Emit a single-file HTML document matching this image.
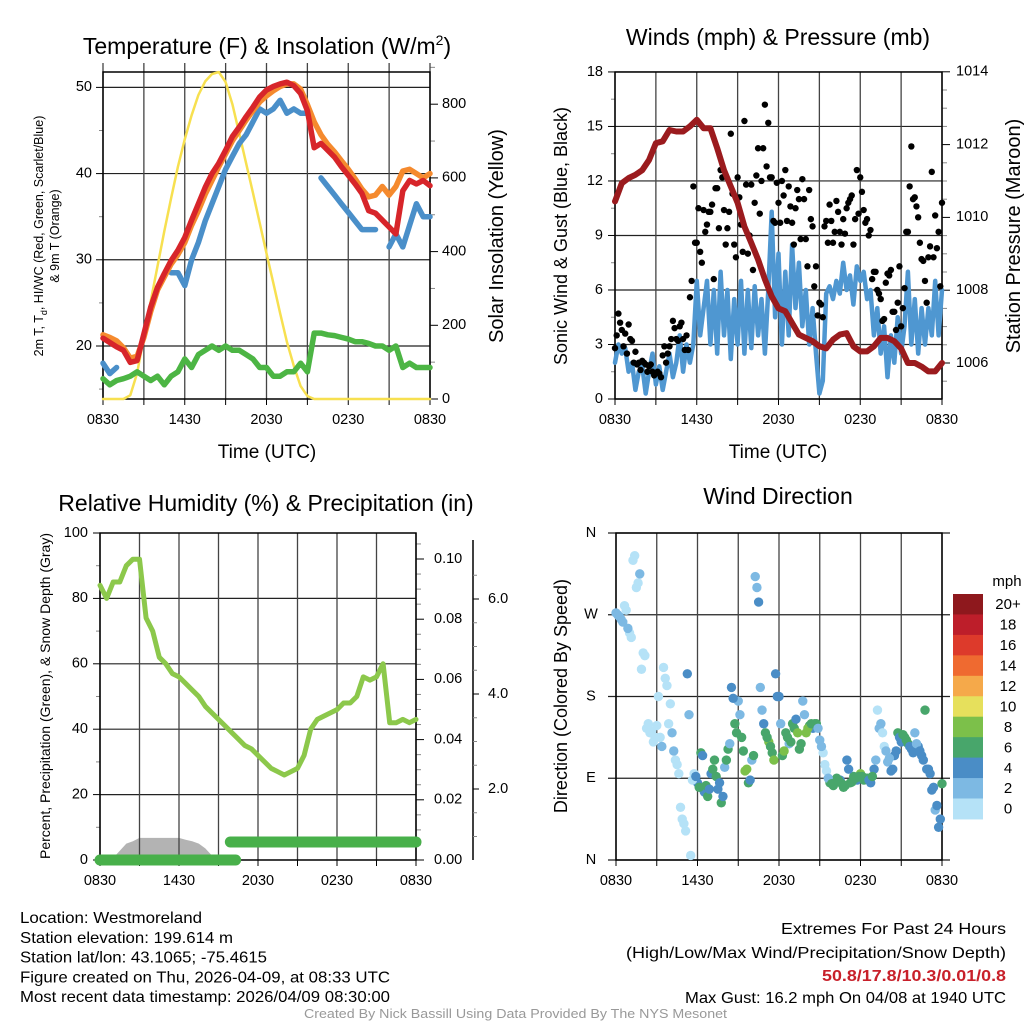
<!DOCTYPE html>
<html><head><meta charset="utf-8"><style>
html,body{margin:0;padding:0;background:#fff;}
svg{display:block;font-family:"Liberation Sans",sans-serif;}
</style></head><body>
<svg id="fig" width="1024" height="1024" viewBox="0 0 1024 1024" xmlns="http://www.w3.org/2000/svg"></svg>
<script>
// ---------- DATA (half-hourly unless noted; hours 0..24 from 0830 UTC) ----------
const timeLabels = ["0830","1430","2030","0230","0830"];
const tempRed = [20.9,20.4,19.9,19.5,18.1,18.3,21.4,24.5,26.8,28.4,29.9,31.1,32.6,34.6,36.5,38.4,40,41.2,42.7,44.3,45.4,46.6,47.7,48.9,49.7,50.1,50.4,50.6,50.2,49.3,47.3,43.0,43.5,42.7,41.9,40.8,39.8,38.8,37.7,35.7,35.4,34.6,33.8,33.0,38,39.2,38.8,39.2,38.6];
const tempOrange = [21.3,21.0,20.6,19.8,18.6,18.8,21,24,26.5,28,29.5,30.6,32,34,35.7,37.6,39.2,40.8,42.3,43.8,45,46.2,47.3,48.3,49,49.6,50.1,50.4,50.4,49.8,48,46,44.5,43.4,42.5,41.5,40.5,39.4,38.2,37.3,37.5,38.5,37.5,38.5,40.3,40.5,40,39.5,40];
const tempBlue = [18,16.8,17.5,null,null,null,null,null,null,null,28.5,28.5,27,30,32,34.5,36.5,38.5,40.5,42,43.5,44.5,46,47.5,47,47.5,48.5,47,47.5,47,47,null,39.5,38.5,37.5,36.5,35.5,34.5,33.5,33.5,33.5,null,31.5,33,31.5,34,36.5,35,35];
const dewGreen = [16.2,15.5,16,16.2,16.5,17,16.5,16,16.5,15.5,16.5,17,18.5,17.5,19,19.5,20,19.5,20,19.5,19.5,19,18.5,17.5,17.5,16.5,16.5,17,17,18,17,21.5,21.5,21.3,21.2,21,20.8,20.5,20.5,20.3,20,20,19.5,20,17.5,18,17.5,17.5,17.5];
const solar = [0,0,0,0,10,70,168,265,360,455,545,630,705,770,825,862,882,887,860,800,720,640,560,478,395,315,233,155,90,35,8,0,0,0,0,0,0,0,0,0,0,0,0,0,0,0,0,0,0];
const tempTicks = [20,30,40,50];
const solarTicks = [0,200,400,600,800];

// sustained wind every 0.25 h
const windSpeed = [2.0,3.0,2.5,2.8,1.5,2.0,0.5,1.5, 1.8,0.3,1.5,2.5,0.8,1.8,0.5,1.5, 2.5,1.2,2.0,3.5,1.5,3.0,2.0,3.0, 6.5,3.5,5.0,6.5,3.0,6.0,2.5,7.0, 3.5,6.0,2.2,5.5,3.0,6.5,2.5,6.0, 2.8,6.2,3.5,5.5,2.5,6.0,10.3,4.5, 8.0,3.0,7.0,3.5,8.5,5.0,7.5,4.0, 6.0,3.0,5.0,2.5,0.3,1.0,5.8,6.2, 5.5,6.5,5.8,7.5,6.0,6.8,5.2,7.3, 6.5,7.0,5.5,6.0,3.5,5.0,2.5,4.0, 1.2,3.5,2.0,4.5,2.5,4.0,7.0,3.0, 5.5,2.5,5.0,3.0,5.0,3.5,6.5,3.5,6.0];
// gusts every 0.25 h, two interleaved sets
const gustA = [2.8,4.7,3.8,3.6,4.1,3.2,2.6,2.0, 2.1,1.9,1.8,1.5,1.4,1.4,2.4,2.0, 2.9,4.3,3.3,4.0,3.3,3.5,5.6,11.7, 8.6,8.1,10.4,9.6,10.3,6.6,11.6,12.6, 10.4,9.4,14.6,8.5,12.2,9.6,15.3,8.0, 11.8,10.8,13.8,12.0,16.2,15.2,12.2,9.7, 10.8,12.0,12.6,11.7,9.7,10.5,11.0,12.1, 8.8,11.5,9.5,7.3,5.3,4.5,9.8,10.7, 8.6,10.9,9.2,9.9,10.5,11.0,8.5,12.6, 12.2,10.4,9.9,9.3,7.0,6.0,5.5,4.4, 6.9,7.1,4.8,5.3,4.0,6.1,9.2,13.9, 11.1,10.0,7.7,6.5,7.8,12.5,10.1,9.2,10.8];
const gustB = [3.5,4.2,2.9,2.5,3.3,2.0,1.9,1.6, 2.0,1.5,1.9,1.3,1.5,1.2,2.9,2.5, 3.3,3.9,3.2,4.2,2.7,2.7,6.5,8.6, 10.5,7.5,9.2,10.3,10.7,11.6,9.4,12.2, 8.5,10.3,11.3,7.8,11.1,8.1,11.8,9.0, 7.1,12.3,10.2,13.8,12.8,12.2,9.8,11.9, 9.7,11.2,9.8,10.6,8.5,11.5,8.8,11.0, 7.3,9.9,6.2,4.6,5.2,9.5,8.6,9.8, 9.2,10.3,8.5,9.1,10.8,11.2,9.9,10.2, 11.4,9.7,9.0,6.6,7.0,5.8,4.3,6.4, 6.8,4.8,3.8,7.3,5.0,9.2,11.7,11.0, 10.6,8.6,7.6,5.3,8.4,7.8,8.3,6.2];
const pressure = [1010.44,1010.94,1011.08,1011.17,1011.3,1011.58,1012.04,1012.09,1012.4,1012.36,1012.36,1012.5,1012.68,1012.45,1012.45,1011.9,1011.3,1010.85,1010.4,1009.75,1009.3,1008.84,1008.3,1007.83,1007.5,1007.42,1007.1,1006.78,1006.69,1006.6,1006.46,1006.4,1006.64,1006.78,1006.82,1006.46,1006.32,1006.32,1006.46,1006.69,1006.69,1006.6,1006.4,1006.0,1006.0,1005.9,1005.77,1005.77,1006.0];
const windTicks = [0,3,6,9,12,15,18];
const presTicks = [1006,1008,1010,1012,1014];

const rh = [84,80,85,85,90,92,92,74,70,62,60,57,56,54,52,50,47,45,43,41,39,37,35,34,32,30,28,27,26,27,28,32,40,43,44,45,46,48,48,50,56,55,56,60,42,42,43,42,43];
const precip = [0,0,0,0,0,0,0,0,0,0,0,0,0,0,0,0,0,0,0,0,0,0.006,0.006,0.006,0.006,0.006,0.006,0.006,0.006,0.006,0.006,0.006,0.006,0.006,0.006,0.006,0.006,0.006,0.006,0.006,0.006,0.006,0.006,0.006,0.006,0.006,0.006,0.006,0.006];
const snow = [0.5,0.5,0.55,0.7,0.85,0.9,0.97,0.97,0.97,0.97,0.97,0.97,0.97,0.93,0.9,0.85,0.75,0.6,0.5,0.5,0.5,0.5,0.5,0.5,0.5,0.5,0.5,0.5,0.5,0.5,0.5,0.5,0.5,0.5,0.5,0.5,0.5,0.5,0.5,0.5,0.5,0.5,0.5,0.5,0.5,0.5,0.5,0.5,0.5];
const rhTicks = [0,20,40,60,80,100];
const precipTicks = ["0.00","0.02","0.04","0.06","0.08","0.10"];
const snowTicks = ["2.0","4.0","6.0"];

// wind direction every 0.25 h (set A) and offset 0.125 h (set B)
const windDir = [272,268,262,275, 250,330,300,315, 228,145,140,130, 148,135,212,192, 172,120,105,58, 40,205,5,95, 85,118,75,70, 95,110,78,63, 102,122,190,150, 175,135,98,85, 110,312,284,165, 140,130,118,205, 180,115,140,128, 150,155,122,175, 140,148,145,150, 132,118,98,85, 82,90,88,80, 110,85,92,88, 95,88,90,85, 100,165,150,125, 108,98,115,140, 130,135,128,122, 140,125,115,165, 100,77,55,36, 84];
const dirSpeed = [3,2,3,1, 1,1,1,2, 0.5,1,1,1, 1,1,1,1, 1,3,1,1, 1,4,1,1, 5,7,4,6, 5,7,4,6, 3,7,5,7, 3,7,8,6, 3,3,5,3, 7,9,7,5, 5,7,6,3, 7,5,7,3, 8,6,5,7, 3,1,1,6, 6,7,5,6, 5,7,7,5, 8,6,7,5, 4,1,3,1, 3,5,4,6, 5,6,7,4, 3,5,4,7, 5,5,3,5, 6];
const windDirB = [270,265,280,255, 245,335,305,210, 225,150,142,135, 180,125,200,150, 140,110,95,45, 32,160,88,92, 80,115,82,78, 100,92,85,70, 110,128,178,140, 160,120,100,88, 115,300,190,150, 135,125,110,180, 150,120,135,130, 145,140,128,160, 145,150,150,145, 125,105,90,84, 85,88,84,82, 100,86,90,92, 92,90,88,92, 110,145,140,120, 112,100,120,135, 138,132,125,118, 128,120,110,100, 95,80,60,45];
const dirSpeedB = [2,3,1,2, 1,0.5,1,1, 1,0.5,1,1, 1,3,1,1, 3,1,1,1, 1,3,1,5, 7,5,6,4, 6,7,5,5, 7,3,5,6, 3,7,8,5, 7,3,3,5, 7,7,9,5, 3,8,7,6, 7,8,7,3, 8,7,6,3, 3,1,3,6, 6,7,6,7, 5,6,7,6, 6,7,5,6, 3,3,1,3, 3,4,5,4, 6,7,4,5, 3,4,5,5, 4,5,4,5];
const dirTicks = ["N","E","S","W","N"];
const speedBins = ["0","2","4","6","8","10","12","14","16","18","20+"];
const binColors = ["#b5e2f7","#7db9e3","#4a8dc6","#48a66b","#7cc04a","#e6e05c","#f5a94a","#ef6a30","#dd3a2b","#bd1e2a","#8e181d"];

// ---------- DRAWING ----------
const NS="http://www.w3.org/2000/svg";
const svg=document.getElementById('fig');
function mk(tag,attrs,parent){const e=document.createElementNS(NS,tag);for(const k in attrs)e.setAttribute(k,attrs[k]);(parent||svg).appendChild(e);return e;}
function txt(s,attrs,parent){const e=mk('text',attrs,parent);e.textContent=s;return e;}
function hx(x0,x1){return h=>x0+(x1-x0)*h/24;}
function pathFrom(arr,xs,ys,step){let d="",pen=false;arr.forEach((v,i)=>{if(v===null){pen=false;return;}const h=i*step;d+=(pen?"L":"M")+xs(h).toFixed(1)+" "+ys(v).toFixed(1);pen=true;});return d;}

function frameAndGrid(x0,x1,yT,yB,xs,name,gridTop){
  const g=mk('g',{});
  
  
  for(let k=0;k<=8;k++){const x=xs(k*3);
    const l=mk('line',{x1:x,x2:x,y1:gridTop,y2:yB,stroke:'#444','stroke-width':1.3},g);
    
    
    const t=mk('line',{x1:x,x2:x,y1:yB,y2:yB+6,stroke:'#000','stroke-width':1},g);
    
    
  }
  timeLabels.forEach((s,i)=>{const t=txt(s,{x:xs(i*6),y:yB+25,'font-size':14.5,'text-anchor':'middle'},g);
    
    });
  const f=mk('rect',{x:x0,y:yT,width:x1-x0,height:yB-yT,fill:'none',stroke:'#000','stroke-width':1.5},g);
  
  
}
function hGrid(y,x0,x1,ext){const l=mk('line',{x1:x0-(ext||0),x2:x1+(ext||0),y1:y,y2:y,stroke:'#222','stroke-width':1.2});
  
  }
function tick(x,y,len,major){const l=mk('line',{x1:x,x2:x+len,y1:y,y2:y,stroke:major?'#000':'#888','stroke-width':1});
  
  }
function label(s,x,y,anchor,size,name){const t=txt(s,{x:x,y:y,'font-size':size||14.5,'text-anchor':anchor,'dominant-baseline':'middle'});
  
  return t;}
function title(s,x,y,size,name,rot){const a={x:x,y:y,'font-size':size,'text-anchor':'middle'};if(rot)a.transform='rotate(-90 '+x+' '+y+')';const t=txt(s,a);
  
  return t;}
function series(d,color,w,name){const p=mk('path',{d:d,fill:'none',stroke:color,'stroke-width':w,'stroke-linejoin':'round','stroke-linecap':'round'});
  
  return p;}

// ===== Panel 1: Temperature =====
(function(){
  const x0=103,x1=430,yT=72,yB=399;
  const xs=hx(x0,x1), yL=v=>yB-(v-13.85)*8.62, yR=v=>yB-v*0.3685;
  tempTicks.forEach(v=>{hGrid(yL(v),x0,x1);tick(x0-7,yL(v),7,true);label(String(v),x0-11,yL(v),'end',14.5,'temp-tick-label');});
  [15,25,35,45].forEach(v=>tick(x0-4,yL(v),4,false));
  solarTicks.forEach(v=>{tick(x1,yR(v),8,true);label(String(v),x1+12,yR(v),'start',14.5,'solar-tick-label');});
  for(let v=100;v<=900;v+=200)tick(x1,yR(v),5,false);
  frameAndGrid(x0,x1,yT,yB,xs,'temperature-panel',63);
  const step=0.5;
  series(pathFrom(solar,xs,yR,step),'#f7e050',2.5,'solar-insolation-line');
  series(pathFrom(dewGreen,xs,yL,step),'#4cb544',5.5,'dewpoint-line');
  series(pathFrom(tempBlue,xs,yL,step),'#4a8fc9',5.5,'windchill-line');
  series(pathFrom(tempOrange,xs,yL,step),'#f58a2e',5.5,'temp-9m-line');
  series(pathFrom(tempRed,xs,yL,step),'#d7252a',5.5,'temp-2m-line');
  const t=txt('Temperature (F) & Insolation (W/m',{x:267,y:54,'font-size':23,'text-anchor':'middle'});
  const sup=mk('tspan',{dy:-9,'font-size':14},t);sup.textContent='2';
  const cl=mk('tspan',{dy:9},t);cl.textContent=')';
  
  
  title('Time (UTC)',267,458,19,'x-axis-title');
  const yl=txt('',{x:0,y:0,'font-size':12.5,'text-anchor':'middle',transform:'translate(43 236) rotate(-90)'});
  
  
  const a=mk('tspan',{x:0,y:0},yl);a.textContent='2m T, T';
  const sb=mk('tspan',{dy:4,'font-size':9},yl);sb.textContent='d';
  const b=mk('tspan',{dy:-4},yl);b.textContent=', HI/WC (Red, Green, Scarlet/Blue)';
  const c=mk('tspan',{x:0,y:16},yl);c.textContent='& 9m T (Orange)';
  title('Solar Insolation (Yellow)',503,236,20,'solar-y-axis-title',true);
})();

// ===== Panel 2: Winds & Pressure =====
(function(){
  const x0=615,x1=942,yT=72,yB=399;
  const xs=hx(x0,x1), yL=v=>yB-v*18.17, yR=p=>363-(p-1006)*36.4;
  windTicks.forEach(v=>{hGrid(yL(v),x0,x1);tick(x0-7,yL(v),7,true);label(String(v),x0-12,yL(v),'end',14.5,'wind-tick-label');});
  for(let v=1.5;v<18;v+=3)tick(x0-4,yL(v),4,false);
  presTicks.forEach(v=>{tick(x1,yR(v),8,true);label(String(v),x1+14,yR(v),'start',14.5,'pressure-tick-label');});
  for(let v=1005.5;v<1014;v+=0.5){if(v%2!==0)tick(x1,yR(v),5,false);}
  frameAndGrid(x0,x1,yT,yB,xs,'wind-panel',72);
  series(pathFrom(windSpeed,xs,yL,0.25),'#4f97d1',4.5,'sonic-wind-line');
  [gustA,gustB].forEach((arr,j)=>arr.forEach((v,i)=>{const h=i*0.25+j*0.125;if(h>24)return;
    const c=mk('circle',{cx:xs(h),cy:yL(v),r:3.2,fill:'#000'});
    
    }));
  series(pathFrom(pressure,xs,yR,0.5),'#9b1b1e',6,'pressure-line');
  title('Winds (mph) & Pressure (mb)',778,45,23,'winds-title');
  title('Time (UTC)',778,458,19,'x-axis-title');
  title('Sonic Wind & Gust (Blue, Black)',567,236,18,'wind-y-axis-title',true);
  title('Station Pressure (Maroon)',1020,236,20,'pressure-y-axis-title',true);
})();

// ===== Panel 3: RH & Precip =====
(function(){
  const x0=100,x1=416,yT=533,yB=860;
  const xs=hx(x0,x1), yL=v=>yB-v*3.27, yP=v=>yB-v*3010, yS=v=>884-v*47.5;
  rhTicks.forEach(v=>{if(v>0&&v<100)hGrid(yL(v),x0,x1);tick(x0-7,yL(v),7,true);label(String(v),x0-12,yL(v),'end',14.5,'rh-tick-label');});
  for(let v=10;v<100;v+=20)tick(x0-4,yL(v),4,false);
  precipTicks.forEach(s=>{const v=parseFloat(s);tick(x1,yP(v),8,true);label(s,x1+18,yP(v),'start',14.5,'precip-tick-label');});
  for(let v=0.005;v<0.108;v+=0.005){if(Math.round(v*1000)%20!==0)tick(x1,yP(v),5,false);}
  const sa=mk('line',{x1:473,x2:473,y1:540,y2:860,stroke:'#000','stroke-width':1.5});
  
  
  snowTicks.forEach(s=>{const v=parseFloat(s);tick(473,yS(v),6,true);label(s,488,yS(v),'start',14.5,'snow-tick-label');});
  for(let v=0.5;v<7;v+=0.5){if(v%2!==0&&yS(v)<860&&yS(v)>540)tick(473,yS(v),4,false);}
  let d='M'+xs(0)+' '+yB;snow.forEach((v,i)=>{d+='L'+xs(i*0.5).toFixed(1)+' '+Math.min(yB,yS(v)).toFixed(1);});d+='L'+xs(24)+' '+yB+'Z';
  const sp=mk('path',{d:d,fill:'#b3b3b3',stroke:'none'});
  
  
  frameAndGrid(x0,x1,yT,yB,xs,'humidity-panel',533);
  series(pathFrom(rh,xs,yL,0.5),'#8cc84b',5,'relative-humidity-line');
  let s=0;for(let i=1;i<=precip.length;i++){if(i===precip.length||precip[i]!==precip[s]){
      const x1h=i===precip.length?24:(i-1)*0.5+0.3, x0h=s===0?0:s*0.5-0.6;
      series('M'+xs(x0h)+' '+yP(precip[s])+'L'+xs(x1h)+' '+yP(precip[s]),'#48b04a',11,'precipitation-run');
      s=i;}}
  title('Relative Humidity (%) & Precipitation (in)',266,511,23,'humidity-title');
  title('Percent, Precipitation (Green), & Snow Depth (Gray)',50,696,14,'humidity-y-axis-title',true);
})();

// ===== Panel 4: Wind Direction =====
(function(){
  const x0=616,x1=942,yT=533,yB=860;
  const xs=hx(x0,x1), yD=d=>yB-d*0.9083;
  dirTicks.forEach((s,i)=>{const y=yD(i*90);hGrid(y,x0,x1,8);label(s,591,y,'middle',14.5,'direction-tick-label');});
  frameAndGrid(x0,x1,yT,yB,xs,'direction-panel',533);
  function dots(dirs,spds,off){dirs.forEach((d,i)=>{const sp=spds[i];const bin=Math.min(10,Math.floor(sp/2));
    const c=mk('circle',{cx:xs(i*0.25+off),cy:yD(d),r:4.7,fill:binColors[bin]});
    
    });}
  dots(windDir,dirSpeed,0);
  dots(windDirB,dirSpeedB,0.125);
  const bh=20.45, top=594;
  for(let k=0;k<11;k++){const idx=10-k;
    const r=mk('rect',{x:953,y:top+k*bh,width:30,height:bh+0.5,fill:binColors[idx]});
    
    
    label(speedBins[idx],1008,top+k*bh+bh/2+1,'middle',15,'colorbar-label');}
  label('mph',1007,582,'middle',15,'colorbar-title');
  title('Wind Direction',778,504,23,'direction-title');
  title('Direction (Colored By Speed)',567,696,18,'direction-y-axis-title',true);
})();

// ===== Footer text =====
const leftInfo=["Location: Westmoreland","Station elevation: 199.614 m","Station lat/lon: 43.1065; -75.4615","Figure created on Thu, 2026-04-09, at 08:33 UTC","Most recent data timestamp: 2026/04/09 08:30:00"];
const leftWidths=[182,213,247,370,370];
leftInfo.forEach((s,i)=>{const t=txt(s,{x:20,y:923+i*19.8,'font-size':16,textLength:leftWidths[i],lengthAdjust:'spacingAndGlyphs'});
  
  });
[["Extremes For Past 24 Hours",934,'#000','normal',225],["(High/Low/Max Wind/Precipitation/Snow Depth)",958,'#000','normal',380],["50.8/17.8/10.3/0.01/0.8",981,'#c8202a','bold',184],["Max Gust: 16.2 mph On 04/08 at 1940 UTC",1003,'#000','normal',321]].forEach(r=>{
  const t=txt(r[0],{x:1006,y:r[1],'font-size':16,'text-anchor':'end',fill:r[2],'font-weight':r[3],textLength:r[4],lengthAdjust:'spacingAndGlyphs'});
  
  });
const cr=txt('Created By Nick Bassill Using Data Provided By The NYS Mesonet',{x:304,y:1018,'font-size':12.5,fill:'#999',textLength:423,lengthAdjust:'spacingAndGlyphs'});


</script>
</body></html>
